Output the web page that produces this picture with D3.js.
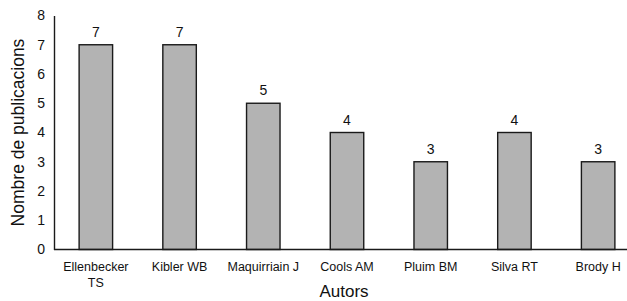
<!DOCTYPE html>
<html lang="en">
<head>
<meta charset="utf-8">
<title>Nombre de publicacions per autor</title>
<script src="https://d3js.org/d3.v7.min.js"></script>
<style>
  body { margin: 0; background: #fff; }
  text { font-family: "Liberation Sans", Arial, Helvetica, sans-serif; fill: #111; }
  .bar { fill: #b3b3b3; stroke: #1a1a1a; stroke-width: 1.4px; }
  .axis path { stroke: #1a1a1a; stroke-width: 1.4px; }
</style>
</head>
<body>
<svg width="627" height="301"></svg>
<script>
// authors (two-line labels where the original wraps)
var autors = ["Ellenbecker TS", "Kibler WB", "Maquirriain J", "Cools AM", "Pluim BM", "Silva RT", "Brody H"];
var autorLines = [["Ellenbecker", "TS"], ["Kibler WB"], ["Maquirriain J"], ["Cools AM"], ["Pluim BM"], ["Silva RT"], ["Brody H"]];
var publicacions = [7, 7, 5, 4, 3, 4, 3];
var yTicks = [0, 1, 2, 3, 4, 5, 6, 7, 8];

var svg = d3.select("svg");

// the plot runs past the right edge of the picture, as in the original
var x = d3.scaleBand()
  .domain(autors)
  .range([54, 640])
  .paddingInner(0.6)
  .paddingOuter(0.3);

var y = d3.scaleLinear()
  .domain([0, 8])
  .range([249.5, 15.5]);

// bars
svg.selectAll(".bar")
  .data(publicacions)
  .enter().append("rect")
  .attr("class", "bar")
  .attr("x", (d, i) => x(autors[i]))
  .attr("y", d => y(d))
  .attr("width", x.bandwidth())
  .attr("height", d => y(0) - y(d));

// value labels
svg.selectAll(".val")
  .data(publicacions)
  .enter().append("text")
  .attr("class", "val")
  .attr("x", (d, i) => x(autors[i]) + x.bandwidth() / 2)
  .attr("y", d => y(d) - 8)
  .attr("text-anchor", "middle")
  .style("font-size", "14px")
  .text(d => d);

// y axis
var yAxis = svg.append("g")
  .attr("class", "axis")
  .attr("transform", "translate(54,0)")
  .call(d3.axisLeft(y).tickValues(yTicks).tickSize(0).tickPadding(9));
yAxis.selectAll("text")
  .style("font-size", "14px")
  .style("font-family", "'Liberation Sans', Arial, Helvetica, sans-serif");

// x axis
var xAxis = svg.append("g")
  .attr("class", "axis")
  .attr("transform", "translate(0," + y(0) + ")")
  .call(d3.axisBottom(x).tickSize(0).tickFormat(""));
xAxis.select(".domain").attr("d", "M54,0H640");

xAxis.selectAll(".tick").each(function(d, i) {
  var t = d3.select(this).append("text")
    .attr("text-anchor", "middle")
    .style("font-size", "12.5px")
    .style("font-family", "'Liberation Sans', Arial, Helvetica, sans-serif")
    .attr("fill", "#111");
  autorLines[i].forEach(function(line, k) {
    t.append("tspan").attr("x", 0).attr("y", 21 + k * 16.5).text(line);
  });
});

// axis titles
svg.append("text")
  .attr("transform", "translate(24," + (y(4)) + ") rotate(-90)")
  .attr("text-anchor", "middle")
  .style("font-size", "17.5px")
  .text("Nombre de publicacions");

svg.append("text")
  .attr("x", 344)
  .attr("y", 297)
  .attr("text-anchor", "middle")
  .style("font-size", "17px")
  .text("Autors");
</script>
</body>
</html>
